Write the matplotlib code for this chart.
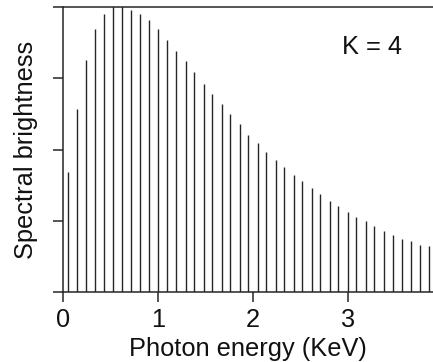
import matplotlib
matplotlib.use("Agg")
import matplotlib.pyplot as plt

plt.rcParams['font.family'] = ['Liberation Sans', 'DejaVu Sans']

# Photon energy of each harmonic line (KeV)
energy = [0.05, 0.15, 0.24, 0.34, 0.43, 0.53, 0.62, 0.72, 0.81, 0.91,
          1.00, 1.10, 1.19, 1.29, 1.38, 1.48, 1.57, 1.67, 1.76, 1.86,
          1.95, 2.05, 2.14, 2.24, 2.33, 2.43, 2.52, 2.62, 2.71, 2.81,
          2.90, 3.00, 3.09, 3.19, 3.28, 3.38, 3.47, 3.57, 3.66, 3.76,
          3.85]
# Spectral brightness (arbitrary units)
brightness = [1.68, 2.57, 3.26, 3.70, 3.90, 4.08, 4.05, 3.96, 3.91, 3.82,
              3.70, 3.54, 3.38, 3.24, 3.09, 2.92, 2.78, 2.64, 2.50, 2.36,
              2.21, 2.09, 1.97, 1.86, 1.76, 1.65, 1.56, 1.46, 1.37, 1.28,
              1.21, 1.12, 1.05, 1.00, 0.93, 0.86, 0.80, 0.75, 0.72, 0.66,
              0.64]
x_ticks = [0, 1, 2, 3]
x_ticklabels = ["0", "1", "2", "3"]
y_ticks = [0, 1, 2, 3, 4]

W, H = 433, 362
fig = plt.figure(figsize=(W / 100, H / 100), dpi=100)
left, right, top, bottom = 63, 433, 7.3, 292
ax = fig.add_axes([left / W, 1 - bottom / H, (right - left) / W, (bottom - top) / H])

ink = '#262626'
ax.vlines(energy, 0, brightness, colors=ink, linewidth=1.0)

ax.set_xlim(0.014, 3.896)
ax.set_ylim(0, 4)
ax.set_xticks(x_ticks)
ax.set_xticklabels(x_ticklabels)
ax.set_yticks(y_ticks)
ax.set_yticklabels([])

for s in ['left', 'top', 'bottom']:
    ax.spines[s].set_color(ink)
    ax.spines[s].set_linewidth(1.1)
ax.spines['right'].set_visible(False)

fs = 18.3
ax.tick_params(axis='both', direction='out', length=7.2, width=1.1, color=ink,
               labelsize=fs, labelcolor='#111111', pad=4)

ax.set_xlabel("Photon energy (KeV)", fontsize=fs, color='#111111', labelpad=4)
ax.set_ylabel("Spectral brightness", fontsize=fs, color='#111111', labelpad=7)

ax.text(0.836, 0.861, "K = 4", transform=ax.transAxes, ha='center', va='center',
        fontsize=fs, color='#111111')

fig.savefig("out.png", dpi=100)
